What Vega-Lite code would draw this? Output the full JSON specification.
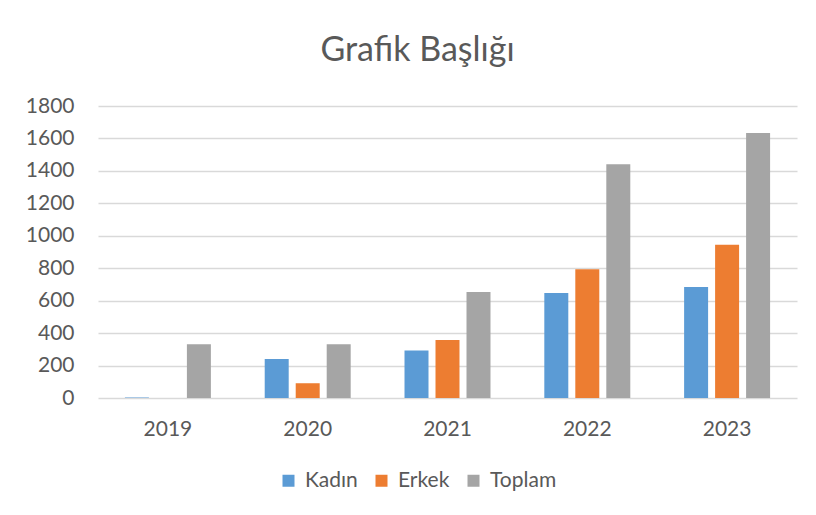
{
  "$schema": "https://vega.github.io/schema/vega-lite/v6.json",
  "autosize": {"type": "none"},
  "padding": {"left": 98, "top": 106, "right": 19, "bottom": 117},
  "width": 699,
  "height": 292,
  "background": "white",
  "title": {
    "text": "Grafik Başlığı",
    "font": "Lato",
    "fontSize": 34,
    "fontWeight": "normal",
    "color": "#595959",
    "anchor": "middle",
    "frame": "group",
    "baseline": "alphabetic",
    "offset": 0,
    "dx": -30
  },
  "data": {
    "values": [
      {"year": "2019", "series": "Kadın", "value": 3},
      {"year": "2019", "series": "Erkek", "value": 0},
      {"year": "2019", "series": "Toplam", "value": 331},
      {"year": "2020", "series": "Kadın", "value": 240},
      {"year": "2020", "series": "Erkek", "value": 91},
      {"year": "2020", "series": "Toplam", "value": 331},
      {"year": "2021", "series": "Kadın", "value": 293},
      {"year": "2021", "series": "Erkek", "value": 357},
      {"year": "2021", "series": "Toplam", "value": 653},
      {"year": "2022", "series": "Kadın", "value": 648},
      {"year": "2022", "series": "Erkek", "value": 793},
      {"year": "2022", "series": "Toplam", "value": 1441},
      {"year": "2023", "series": "Kadın", "value": 685},
      {"year": "2023", "series": "Erkek", "value": 944},
      {"year": "2023", "series": "Toplam", "value": 1633}
    ]
  },
  "mark": {"type": "bar"},
  "encoding": {
    "x": {
      "field": "year",
      "type": "nominal",
      "scale": {"paddingInner": 0.385, "paddingOuter": 0.1925},
      "axis": {
        "title": null,
        "labelAngle": 0,
        "labelFont": "Lato",
        "labelFontSize": 21,
        "labelColor": "#595959",
        "labelBaseline": "alphabetic",
        "labelPadding": 37,
        "ticks": false,
        "tickSize": 0,
        "domain": false,
        "grid": false
      }
    },
    "xOffset": {
      "field": "series",
      "type": "nominal",
      "sort": ["Kadın", "Erkek", "Toplam"],
      "scale": {"paddingInner": 0.226, "paddingOuter": 0}
    },
    "y": {
      "field": "value",
      "type": "quantitative",
      "scale": {"domain": [0, 1800], "nice": false},
      "axis": {
        "title": null,
        "format": "d",
        "values": [0, 200, 400, 600, 800, 1000, 1200, 1400, 1600, 1800],
        "labelFont": "Lato",
        "labelFontSize": 21,
        "labelColor": "#595959",
        "labelPadding": 24,
        "ticks": false,
        "tickSize": 0,
        "domain": false,
        "grid": true,
        "gridColor": "#d9d9d9",
        "gridWidth": 1.5
      }
    },
    "color": {
      "field": "series",
      "type": "nominal",
      "sort": ["Kadın", "Erkek", "Toplam"],
      "scale": {"domain": ["Kadın", "Erkek", "Toplam"], "range": ["#5B9BD5", "#ED7D31", "#A5A5A5"]},
      "legend": {
        "title": null,
        "orient": "none",
        "direction": "horizontal",
        "legendX": 180,
        "legendY": 364,
        "symbolType": "square",
        "symbolSize": 144,
        "symbolStrokeWidth": 0,
        "labelFont": "Lato",
        "labelFontSize": 21,
        "labelColor": "#595959",
        "labelOffset": 6,
        "columnPadding": 13
      }
    }
  },
  "config": {
    "view": {"stroke": null}
  }
}
